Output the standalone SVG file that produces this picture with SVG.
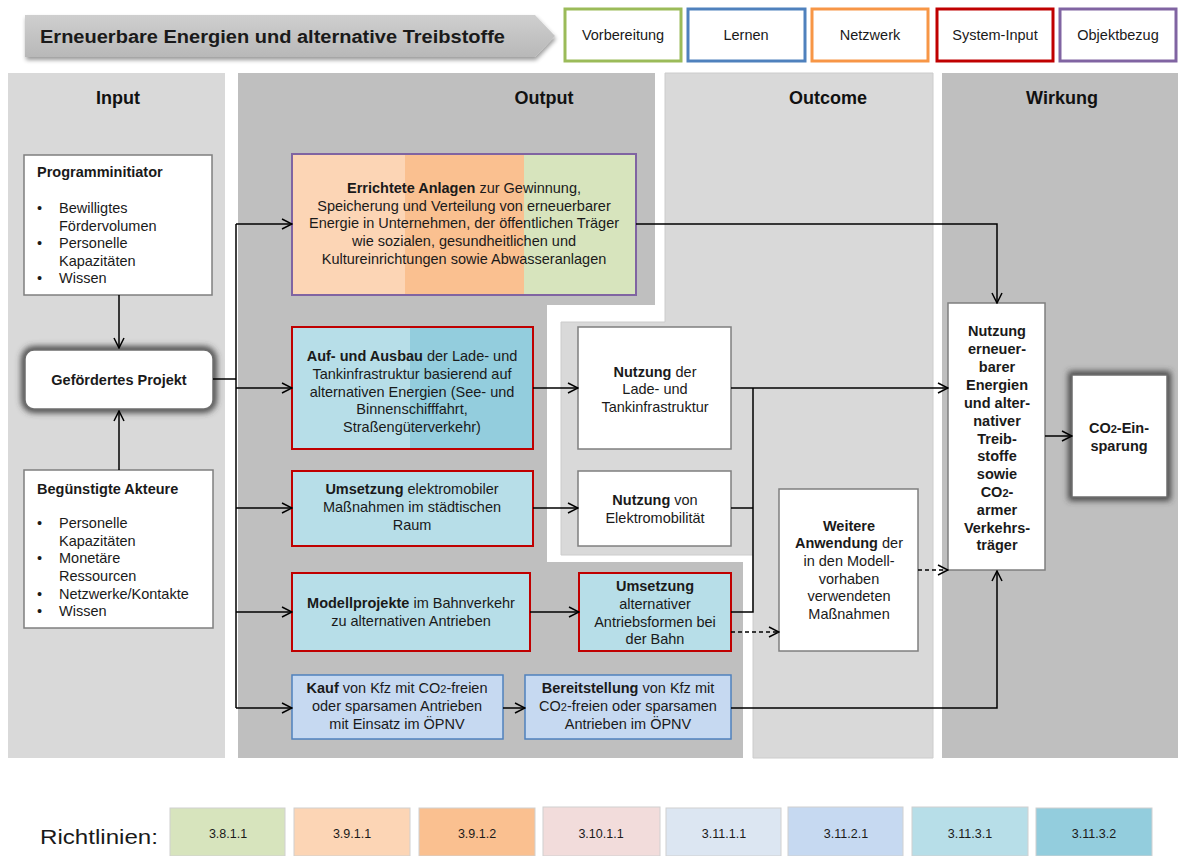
<svg xmlns="http://www.w3.org/2000/svg" width="1178" height="856" viewBox="0 0 1178 856">
<style>
text{font-family:"Liberation Sans",Arial,sans-serif;font-size:14.5px;fill:#1a1a1a}
.c{text-anchor:middle}
.b{font-weight:bold}
.sub{font-size:11px}
.ttl{font-size:18px;font-weight:bold;text-anchor:middle;fill:#111}
.wb{fill:#fff;stroke:#7f7f7f;stroke-width:1.5}
.rb{stroke:#c00000;stroke-width:2}
.bb{stroke:#4f81bd;stroke-width:1.5;fill:#c6d9f1}
.lg{fill:#fff;stroke-width:3}
.ln{fill:none;stroke:#000;stroke-width:1.5}
.dl{fill:none;stroke:#000;stroke-width:1.5;stroke-dasharray:4 3}
.leg{text-anchor:middle;font-size:12.5px}
.lgbox{stroke:#d0d0d0;stroke-width:1}
</style>
<defs>
<marker id="ar" viewBox="0 0 12 12" refX="11" refY="6" markerWidth="12" markerHeight="12" markerUnits="userSpaceOnUse" orient="auto">
<path d="M1,1 L11,6 L1,11" fill="none" stroke="#000" stroke-width="1.5"/>
</marker>
<filter id="glow" x="-30%" y="-30%" width="160%" height="160%">
<feGaussianBlur stdDeviation="3"/>
</filter>
<filter id="sh" x="-5%" y="-20%" width="110%" height="160%">
<feGaussianBlur in="SourceAlpha" stdDeviation="2"/>
<feOffset dx="1" dy="3" result="o"/>
<feComponentTransfer><feFuncA type="linear" slope="0.4"/></feComponentTransfer>
<feMerge><feMergeNode/><feMergeNode in="SourceGraphic"/></feMerge>
</filter>
<linearGradient id="hg" x1="0" y1="0" x2="0" y2="1">
<stop offset="0" stop-color="#cfcfcf"/>
<stop offset="1" stop-color="#b8b8b8"/>
</linearGradient>
</defs>
<rect width="1178" height="856" fill="#fff"/>

<!-- header -->
<g id="header">
<polygon points="25,15 535,15 555,36 535,57 25,57" fill="url(#hg)" filter="url(#sh)"/>
<text x="40" y="43" class="b" style="font-size:18px" textLength="465" lengthAdjust="spacingAndGlyphs">Erneuerbare Energien und alternative Treibstoffe</text>
</g>
<g id="legend-top">
<rect x="565" y="9" width="116" height="52" class="lg" stroke="#9bbb59"/>
<text x="623" y="40" class="c">Vorbereitung</text>
<rect x="688" y="9" width="117" height="52" class="lg" stroke="#4f81bd"/>
<text x="746" y="40" class="c">Lernen</text>
<rect x="812" y="9" width="116" height="52" class="lg" stroke="#f79646"/>
<text x="870" y="40" class="c">Netzwerk</text>
<rect x="937" y="9" width="116" height="52" class="lg" stroke="#c00000"/>
<text x="995" y="40" class="c">System-Input</text>
<rect x="1060" y="9" width="116" height="52" class="lg" stroke="#8064a2"/>
<text x="1118" y="40" class="c">Objektbezug</text>
</g>

<!-- columns -->
<g id="columns">
<rect x="8" y="73" width="217" height="685" fill="#d9d9d9"/>
<path d="M238,73 H655 V305 H547 V562 H743 V758 H238 Z" fill="#bfbfbf"/>
<path d="M665,73 H933 V758 H753 V555 H561 V322 H665 Z" fill="#d9d9d9" stroke="#cccccc" stroke-width="1"/>
<rect x="942" y="73" width="236" height="685" fill="#bfbfbf"/>
<text x="118" y="104" class="ttl">Input</text>
<text x="544" y="104" class="ttl">Output</text>
<text x="828" y="104" class="ttl">Outcome</text>
<text x="1062" y="104" class="ttl">Wirkung</text>
</g>

<!-- Input nodes -->
<g id="programminitiator">
<rect x="24" y="155" width="188" height="140" class="wb"/>
<text x="37" y="177" class="b">Programminitiator</text>
<text x="37" y="213">•</text><text x="59" y="213">Bewilligtes</text>
<text x="59" y="231">Fördervolumen</text>
<text x="37" y="248">•</text><text x="59" y="248">Personelle</text>
<text x="59" y="266">Kapazitäten</text>
<text x="37" y="283">•</text><text x="59" y="283">Wissen</text>
</g>
<g id="gefoerdertes-projekt">
<rect x="25" y="350" width="188" height="59" rx="9" fill="none" stroke="#3a3a3a" stroke-width="7" filter="url(#glow)"/>
<rect x="25" y="350" width="188" height="59" rx="9" fill="#fff" stroke="#6e6e6e" stroke-width="1.5"/>
<text x="119" y="385" class="c b">Gefördertes Projekt</text>
</g>
<g id="beguenstigte-akteure">
<rect x="24" y="470" width="189" height="158" class="wb"/>
<text x="37" y="494" class="b">Begünstigte Akteure</text>
<text x="37" y="528">•</text><text x="59" y="528">Personelle</text>
<text x="59" y="546">Kapazitäten</text>
<text x="37" y="563">•</text><text x="59" y="563">Monetäre</text>
<text x="59" y="581">Ressourcen</text>
<text x="37" y="599">•</text><text x="59" y="599">Netzwerke/Kontakte</text>
<text x="37" y="616">•</text><text x="59" y="616">Wissen</text>
</g>

<!-- Output nodes -->
<g id="errichtete-anlagen">
<rect x="292" y="154" width="113" height="141" fill="#fcd5b5"/>
<rect x="405" y="154" width="119" height="141" fill="#fac090"/>
<rect x="524" y="154" width="112" height="141" fill="#d7e4bd"/>
<rect x="292" y="154" width="344" height="141" fill="none" stroke="#8064a2" stroke-width="2"/>
<text x="464" y="193" class="c"><tspan class="b">Errichtete Anlagen</tspan> zur Gewinnung,</text>
<text x="464" y="211" class="c">Speicherung und Verteilung von  erneuerbarer</text>
<text x="464" y="228" class="c">Energie in Unternehmen, der öffentlichen Träger</text>
<text x="464" y="246" class="c">wie sozialen, gesundheitlichen und</text>
<text x="464" y="264" class="c">Kultureinrichtungen  sowie Abwasseranlagen</text>
</g>
<g id="auf-und-ausbau">
<rect x="292" y="327" width="118" height="122" fill="#b7dee8"/>
<rect x="410" y="327" width="123" height="122" fill="#93cddd"/>
<rect x="292" y="327" width="241" height="122" fill="none" class="rb"/>
<text x="412" y="361" class="c"><tspan class="b">Auf- und Ausbau</tspan> der Lade- und</text>
<text x="412" y="379" class="c">Tankinfrastruktur  basierend auf</text>
<text x="412" y="397" class="c">alternativen Energien (See- und</text>
<text x="412" y="414" class="c">Binnenschifffahrt,</text>
<text x="412" y="432" class="c">Straßengüterverkehr)</text>
</g>
<g id="umsetzung-elektromobil">
<rect x="292" y="471" width="241" height="75" fill="#b7dee8" class="rb"/>
<text x="412" y="494" class="c"><tspan class="b">Umsetzung</tspan> elektromobiler</text>
<text x="412" y="512" class="c">Maßnahmen im städtischen</text>
<text x="412" y="530" class="c">Raum</text>
</g>
<g id="modellprojekte">
<rect x="292" y="573" width="238" height="78" fill="#b7dee8" class="rb"/>
<text x="411" y="608" class="c"><tspan class="b">Modellprojekte</tspan> im Bahnverkehr</text>
<text x="411" y="626" class="c">zu alternativen  Antrieben</text>
</g>
<g id="kauf">
<rect x="292" y="675" width="211" height="64" class="bb"/>
<text x="397" y="693" class="c"><tspan class="b">Kauf</tspan> von Kfz mit CO<tspan class="sub">2</tspan>-freien</text>
<text x="397" y="711" class="c">oder sparsamen Antrieben</text>
<text x="397" y="729" class="c">mit Einsatz im ÖPNV</text>
</g>
<g id="bereitstellung">
<rect x="525" y="675" width="206" height="64" class="bb"/>
<text x="628" y="693" class="c"><tspan class="b">Bereitstellung</tspan> von Kfz mit</text>
<text x="628" y="711" class="c">CO<tspan class="sub">2</tspan>-freien oder sparsamen</text>
<text x="628" y="729" class="c">Antrieben im ÖPNV</text>
</g>
<g id="umsetzung-antriebsformen">
<rect x="579" y="573" width="152" height="78" fill="#b7dee8" class="rb"/>
<text x="655" y="591" class="c b">Umsetzung</text>
<text x="655" y="609" class="c">alternativer</text>
<text x="655" y="627" class="c">Antriebsformen bei</text>
<text x="655" y="644" class="c">der Bahn</text>
</g>

<!-- Outcome nodes -->
<g id="nutzung-lade">
<rect x="578" y="327" width="153" height="122" class="wb"/>
<text x="655" y="377" class="c"><tspan class="b">Nutzung</tspan> der</text>
<text x="655" y="394" class="c">Lade- und</text>
<text x="655" y="412" class="c">Tankinfrastruktur</text>
</g>
<g id="nutzung-elektro">
<rect x="578" y="471" width="153" height="75" class="wb"/>
<text x="655" y="505" class="c"><tspan class="b">Nutzung</tspan> von</text>
<text x="655" y="523" class="c">Elektromobilität</text>
</g>
<g id="weitere-anwendung">
<rect x="779" y="489" width="139" height="162" class="wb"/>
<text x="849" y="531" class="c b">Weitere</text>
<text x="849" y="548" class="c"><tspan class="b">Anwendung</tspan> der</text>
<text x="849" y="566" class="c">in den Modell-</text>
<text x="849" y="584" class="c">vorhaben</text>
<text x="849" y="601" class="c">verwendeten</text>
<text x="849" y="619" class="c">Maßnahmen</text>
</g>

<!-- Wirkung nodes -->
<g id="nutzung-erneuerbarer">
<rect x="948" y="303" width="97" height="267" class="wb"/>
<text x="997" y="336" class="c b">Nutzung</text>
<text x="997" y="354" class="c b">erneuer-</text>
<text x="997" y="372" class="c b">barer</text>
<text x="997" y="390" class="c b">Energien</text>
<text x="997" y="408" class="c b">und alter-</text>
<text x="997" y="426" class="c b">nativer</text>
<text x="997" y="444" class="c b">Treib-</text>
<text x="997" y="461" class="c b">stoffe</text>
<text x="997" y="479" class="c b">sowie</text>
<text x="997" y="497" class="c b">CO<tspan class="sub">2</tspan>-</text>
<text x="997" y="515" class="c b">armer</text>
<text x="997" y="533" class="c b">Verkehrs-</text>
<text x="997" y="550" class="c b">träger</text>
</g>
<g id="co2-einsparung">
<rect x="1072" y="375" width="95" height="122" fill="none" stroke="#3a3a3a" stroke-width="7" filter="url(#glow)"/>
<rect x="1072" y="375" width="95" height="122" fill="#fff" stroke="#6e6e6e" stroke-width="1.5"/>
<text x="1119" y="433" class="c b">CO<tspan class="sub">2</tspan>-Ein-</text>
<text x="1119" y="451" class="c b">sparung</text>
</g>

<!-- connectors -->
<g id="connectors">
<line x1="119" y1="295" x2="119" y2="348" class="ln" marker-end="url(#ar)"/>
<line x1="119" y1="470" x2="119" y2="411" class="ln" marker-end="url(#ar)"/>
<polyline points="213,379 236,379" class="ln"/>
<line x1="236" y1="224" x2="236" y2="708" class="ln"/>
<line x1="236" y1="224" x2="292" y2="224" class="ln" marker-end="url(#ar)"/>
<line x1="236" y1="388" x2="292" y2="388" class="ln" marker-end="url(#ar)"/>
<line x1="236" y1="508" x2="292" y2="508" class="ln" marker-end="url(#ar)"/>
<line x1="236" y1="612" x2="292" y2="612" class="ln" marker-end="url(#ar)"/>
<line x1="236" y1="708" x2="292" y2="708" class="ln" marker-end="url(#ar)"/>
<line x1="533" y1="388" x2="578" y2="388" class="ln" marker-end="url(#ar)"/>
<line x1="533" y1="508" x2="578" y2="508" class="ln" marker-end="url(#ar)"/>
<line x1="530" y1="612" x2="579" y2="612" class="ln" marker-end="url(#ar)"/>
<line x1="503" y1="708" x2="525" y2="708" class="ln" marker-end="url(#ar)"/>
<polyline points="636,224 997,224 997,303" class="ln" marker-end="url(#ar)"/>
<line x1="731" y1="388" x2="948" y2="388" class="ln" marker-end="url(#ar)"/>
<polyline points="731,508 753,508" class="ln"/>
<polyline points="731,612 753,612 753,388" class="ln"/>
<line x1="731" y1="632" x2="779" y2="632" class="dl" marker-end="url(#ar)"/>
<line x1="918" y1="570" x2="948" y2="570" class="dl" marker-end="url(#ar)"/>
<polyline points="731,708 997,708 997,571" class="ln" marker-end="url(#ar)"/>
<line x1="1045" y1="436" x2="1072" y2="436" class="ln" marker-end="url(#ar)"/>
</g>

<!-- bottom legend -->
<g id="richtlinien">
<text x="40" y="844" style="font-size:21px" textLength="118" lengthAdjust="spacingAndGlyphs">Richtlinien:</text>
<rect x="170" y="808" width="115" height="48" fill="#d7e4bd" class="lgbox"/>
<text x="228" y="838" class="leg">3.8.1.1</text>
<rect x="294" y="808" width="116" height="48" fill="#fcd5b5" class="lgbox"/>
<text x="352" y="838" class="leg">3.9.1.1</text>
<rect x="419" y="808" width="116" height="48" fill="#fac090" class="lgbox"/>
<text x="477" y="838" class="leg">3.9.1.2</text>
<rect x="543" y="807" width="117" height="49" fill="#f2dcdb" class="lgbox"/>
<text x="601" y="838" class="leg">3.10.1.1</text>
<rect x="666" y="808" width="115" height="48" fill="#dce6f2" class="lgbox"/>
<text x="724" y="838" class="leg">3.11.1.1</text>
<rect x="788" y="807" width="115" height="49" fill="#c6d9f1" class="lgbox"/>
<text x="846" y="838" class="leg">3.11.2.1</text>
<rect x="912" y="807" width="116" height="49" fill="#b7dee8" class="lgbox"/>
<text x="970" y="838" class="leg">3.11.3.1</text>
<rect x="1036" y="808" width="116" height="48" fill="#93cddd" class="lgbox"/>
<text x="1094" y="838" class="leg">3.11.3.2</text>
</g>
</svg>
